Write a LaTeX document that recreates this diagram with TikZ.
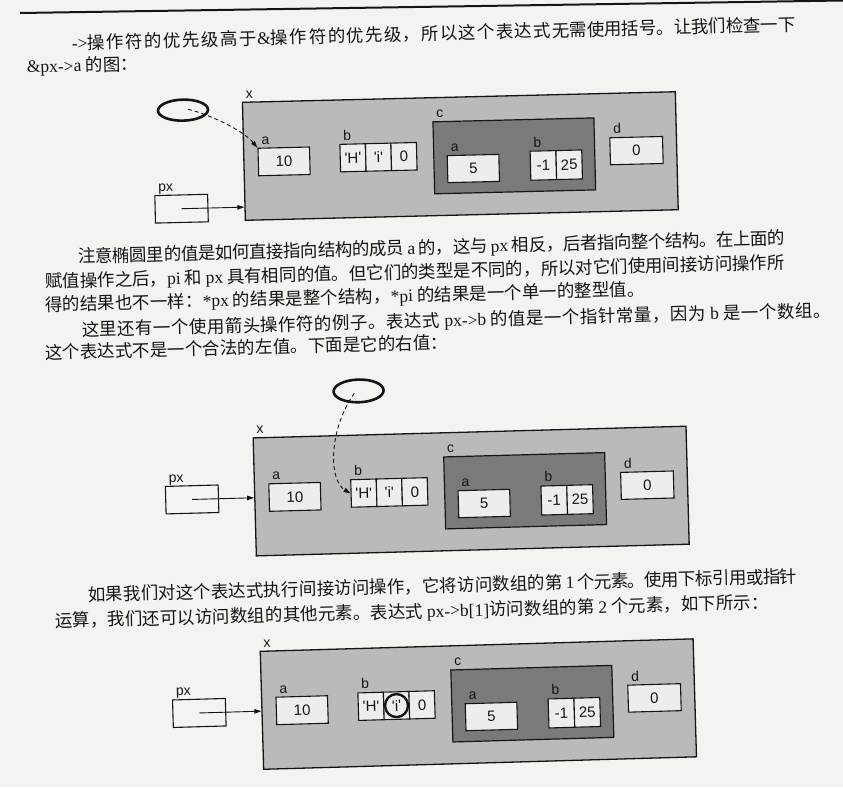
\documentclass[tikz,border=0pt]{standalone}
\usepackage{fontspec}
\setmainfont{Liberation Serif}
\newfontfamily\cjkfont{Noto Sans CJK SC}
\newfontfamily\diagfont{Liberation Sans}
\usetikzlibrary{arrows.meta,shapes.geometric}

% stretchable glue between CJK characters so that full lines can be justified
\XeTeXinterchartokenstate=1
\newcount\cjkcode
\newcommand\cjkrange[2]{%
  \cjkcode=#1\relax
  \loop
    \XeTeXcharclass\cjkcode=7\relax
    \advance\cjkcode by 1\relax
  \ifnum\cjkcode<#2\relax\repeat}
\cjkrange{"3000}{"3040}
\cjkrange{"4E00}{"A000}
\cjkrange{"FF00}{"FFF0}
\XeTeXinterchartoks 7 7 = {\hskip 0pt plus 4pt minus 0.6pt\relax}
% the same glue at the joint between two pieces of one line
\newcommand\seam{\hskip 0pt plus 4pt minus 0.6pt\relax}

\definecolor{paper}{HTML}{F3F3F1}
\definecolor{outergray}{HTML}{BABABA}
\definecolor{cgray}{HTML}{7A7A7A}
\definecolor{cellwhite}{HTML}{EDEDED}
\definecolor{ink}{HTML}{151515}

\newcommand\lat[1]{{\rmfamily #1}}
\newcommand\piece[2]{\hbox to #1{#2}}

\tikzset{
  txt/.style={anchor=west, inner sep=0pt, text=ink,
    font=\cjkfont\fontsize{17.5}{20}\selectfont, text height=14.8pt, text depth=2.2pt},
  textrow/.style={rotate=1.5, transform shape},
  outerbox/.style={draw=ink, line width=1.3pt, fill=outergray, anchor=north west, inner sep=0pt},
  cbox/.style={draw=ink, line width=1.2pt, fill=cgray, anchor=north west, inner sep=0pt},
  cell/.style={draw=ink, line width=1.1pt, fill=cellwhite, anchor=north west, inner sep=0pt,
    text=ink, font=\diagfont\fontsize{15}{18}\selectfont},
  pxbox/.style={cell, fill=paper, minimum width=52.8pt, minimum height=27.5pt},
  lbl/.style={anchor=base west, inner sep=0pt, text=ink, font=\diagfont\fontsize{14}{16}\selectfont},
  ptr/.style={-{Triangle[length=7pt,width=4.5pt]}, line width=0.9pt, draw=ink},
  dptr/.style={ptr, dashed, dash pattern=on 4pt off 3pt},
  oval/.style={ellipse, draw=ink, line width=2.6pt, minimum width=50pt, minimum height=21pt, inner sep=0pt},
  ring/.style={circle, draw=ink, line width=2.4pt, minimum size=23pt, inner sep=0pt},
}

% one struct x with members a, b[3], c{a, b[2]}, d
\newcommand\structbody[1]{%
  \node[outerbox, minimum width=433pt, minimum height=118pt] (#1-x) at (0,0) {};
  \node[lbl] at (4,-3.5) {x};
  \node[cell, minimum width=51.5pt, minimum height=27.5pt] (#1-a) at (14.5,46.4) {10};
  \node[lbl] at (18.5,42.9) {a};
  \node[cell, minimum width=25.5pt, minimum height=27.5pt] (#1-b1) at (96.5,44.5) {\textquotesingle H\textquotesingle};
  \node[cell, minimum width=25.5pt, minimum height=27.5pt] (#1-b2) at (122,44.5) {\textquotesingle i\textquotesingle};
  \node[cell, minimum width=25.5pt, minimum height=27.5pt] (#1-b3) at (147.5,44.5) {0};
  \node[lbl] at (100.5,41) {b};
  \node[cbox, minimum width=161pt, minimum height=72pt] (#1-c) at (190,24.2) {};
  \node[lbl] at (194,20.7) {c};
  \node[cell, minimum width=51.6pt, minimum height=27pt] (#1-ca) at (203.5,58.4) {5};
  \node[lbl] at (207.5,54.9) {a};
  \node[cell, minimum width=25.8pt, minimum height=29pt] (#1-cb1) at (286.5,56) {-1};
  \node[cell, minimum width=25.8pt, minimum height=29pt] (#1-cb2) at (312.3,56) {25};
  \node[lbl] at (290.5,52.5) {b};
  \node[cell, minimum width=52.7pt, minimum height=27pt] (#1-d) at (366.5,44.5) {0};
  \node[lbl] at (370.5,41) {d};
}

\begin{document}
\begin{tikzpicture}[x=1pt, y=-1pt]
  \fill[paper] (0,0) rectangle (843,787);
  \useasboundingbox (0,0) rectangle (843,787);

  % running rule at the head of the page
  \coordinate (ruleL) at (20,13);
  \coordinate (ruleR) at (843,0.5);
  \draw[ink, line width=2pt] (ruleL) -- (ruleR);

  % ---- paragraph text, each line set in a few pieces along a tilted baseline ----
  \begin{scope}[shift={(71.7,43.3)}, textrow]
    \node[txt] (l1a) at (0,0) {\piece{237pt}{\lat{->}操作符的优先级高于\lat{\&}操作\seam}};
    \node[txt] (l1b) at (l1a.east) {\piece{243pt}{符的优先级，所以这个表达式\seam}};
    \node[txt] (l1c) at (l1b.east) {\piece{243pt}{无需使用括号。让我们检查一下}};
  \end{scope}
  \begin{scope}[shift={(26.7,66.7)}, textrow]
    \node[txt] (l2) at (0,0) {\lat{\&px->a} 的图：};
  \end{scope}

  \begin{scope}[shift={(78.3,256.7)}, textrow]
    \node[txt] (l3a) at (0,0) {\piece{222pt}{注意椭圆里的值是如何直接指\seam}};
    \node[txt] (l3b) at (l3a.east) {\piece{228pt}{向结构的成员 \lat{a} 的，这与 \lat{px} 相\seam}};
    \node[txt] (l3c) at (l3b.east) {\piece{256pt}{反，后者指向整个结构。在上面的}};
  \end{scope}
  \begin{scope}[shift={(45,281.7)}, textrow]
    \node[txt] (l4a) at (0,0) {\piece{251.5pt}{赋值操作之后，\lat{pi} 和 \lat{px} 具有相同\seam}};
    \node[txt] (l4b) at (l4a.east) {\piece{243.7pt}{的值。但它们的类型是不同的，\seam}};
    \node[txt] (l4c) at (l4b.east) {\piece{243.7pt}{所以对它们使用间接访问操作所}};
  \end{scope}
  \begin{scope}[shift={(45,305)}, textrow]
    \node[txt] (l5a) at (0,0) {得的结果也不一样：\lat{*px} 的};
    \node[txt] (l5b) at (l5a.east) {结果是整个结构，\lat{*pi} 的结};
    \node[txt] (l5c) at (l5b.east) {果是一个单一的整型值。};
  \end{scope}
  \begin{scope}[shift={(81.7,330)}, textrow]
    \node[txt] (l6a) at (0,0) {\piece{232.6pt}{这里还有一个使用箭头操作符\seam}};
    \node[txt] (l6b) at (l6a.east) {\piece{265.7pt}{的例子。表达式 \lat{px->b} 的值是一个\seam}};
    \node[txt] (l6c) at (l6b.east) {\piece{249.7pt}{指针常量，因为 \lat{b} 是一个数组。}};
  \end{scope}
  \begin{scope}[shift={(45,353)}, textrow]
    \node[txt] (l7a) at (0,0) {这个表达式不是一个合法的};
    \node[txt] (l7b) at (l7a.east) {左值。下面是它的右值：};
  \end{scope}

  \begin{scope}[shift={(88,595)}, textrow]
    \node[txt] (l8a) at (0,0) {\piece{228.4pt}{如果我们对这个表达式执行间\seam}};
    \node[txt] (l8b) at (l8a.east) {\piece{228.4pt}{接访问操作，它将访问数组的\seam}};
    \node[txt] (l8c) at (l8b.east) {\piece{245.2pt}{第 \lat{1} 个元素。使用下标引用或指针}};
  \end{scope}
  \begin{scope}[shift={(55,621)}, textrow]
    \node[txt] (l9a) at (0,0) {运算，我们还可以访问数组的};
    \node[txt] (l9b) at (l9a.east) {其他元素。表达式 \lat{px->b[1]}访问};
    \node[txt] (l9c) at (l9b.east) {数组的第 \lat{2} 个元素，如下所示：};
  \end{scope}

  % ---- &px->a : the oval points at member a ----
  \begin{scope}[shift={(241.8,101.7)}, rotate=1.4, transform shape]
    \structbody{d1}
    \node[pxbox] (d1-px) at (-89.8,91.2) {};
    \node[lbl] at (-85.8,87.7) {px};
    \draw[ptr] (d1-px.center) -- (d1-px.center -| d1-x.west);
    \node[oval] (d1-e) at (-59,7) {};
    \coordinate (d1-s) at (-54,6.3);
    \draw[dptr] (d1-s) .. controls (-35,11) and (0,28) .. (d1-a.north west);
  \end{scope}

  % ---- px->b : the oval points at the array b ----
  \begin{scope}[shift={(252.5,437.3)}, rotate=1.55, transform shape]
    \structbody{d2}
    \node[pxbox] (d2-px) at (-89,46.2) {};
    \node[lbl] at (-85,42.7) {px};
    \draw[ptr] (d2-px.center) -- (d2-px.center -| d2-x.west);
    \node[oval, minimum height=22.7pt] (d2-e) at (107.3,-43.5) {};
    \coordinate (d2-s) at (103,-41.3);
    \draw[dptr] (d2-s) .. controls (76,-5) and (75,45) .. (d2-b1.west);
  \end{scope}

  % ---- px->b[1] : the second element is ringed ----
  \begin{scope}[shift={(259.6,650.7)}, rotate=1.65, transform shape]
    \structbody{d3}
    \node[pxbox] (d3-px) at (-89,46.2) {};
    \node[lbl] at (-85,42.7) {px};
    \draw[ptr] (d3-px.center) -- (d3-px.center -| d3-x.west);
    \node[ring] (d3-ring) at (d3-b2.center) {};
  \end{scope}
\end{tikzpicture}
\end{document}
